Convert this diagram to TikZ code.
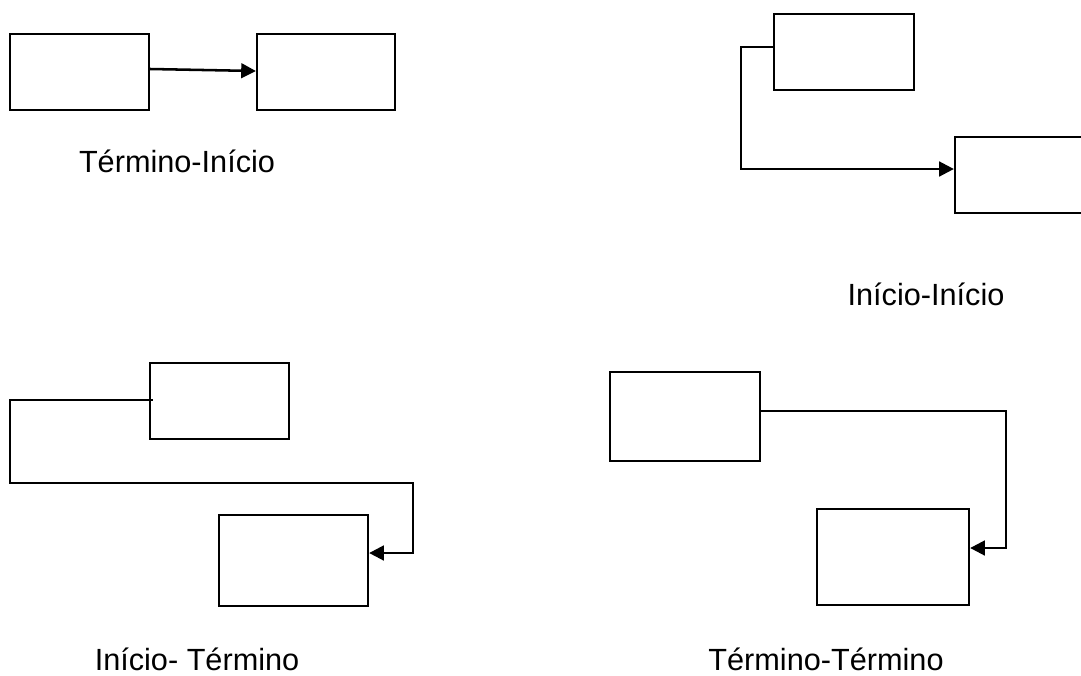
\documentclass[tikz,border=0pt]{standalone}
\usepackage{fontspec}
\setmainfont{Liberation Sans}
\usetikzlibrary{arrows.meta,calc}
\begin{document}
\begin{tikzpicture}[x=0.75pt,y=-0.75pt,
  box/.style={draw=black,line width=1.7pt,rectangle,inner sep=0pt,fill=white},
  conn/.style={draw=black,line width=1.9pt,line join=miter,-{Triangle[length=11pt,width=11pt]}},
  lbl/.style={anchor=base,font=\fontsize{23}{28}\selectfont,inner sep=0pt,text depth=0pt}]
\useasboundingbox (0,0) rectangle (1081,675);
\fill[white] (0,0) rectangle (1081,675);
\clip (0,0) rectangle (1081,675);
% Término-Início
\node[box,minimum width=104.25pt,minimum height=57pt] (A1) at (79.5,72) {};
\node[box,minimum width=103.5pt,minimum height=57pt] (A2) at (326,72) {};
\draw[conn] ($(A1.east)+(0,-3)$) -- ($(A2.west)+(0,-1)$);
\node[lbl] (L1) at (177,172) {Término-Início};
% Início-Início
\node[box,minimum width=105pt,minimum height=57pt] (B1) at (844,52) {};
\node[box,minimum width=104.25pt,minimum height=57pt] (B2) at (1024.5,175) {};
\coordinate (ii1) at (741,169);
\draw[conn] ($(B1.west)+(0,-5)$) -| (ii1) -- ($(B2.west)+(0,-6)$);
\node[lbl] (L2) at (926,305) {Início-Início};
% Início- Término
\node[box,minimum width=104.25pt,minimum height=57pt] (C1) at (219.5,401) {};
\node[box,minimum width=111.75pt,minimum height=68.25pt] (C2) at (293.5,560.5) {};
\coordinate (it1) at (10,483);
\coordinate (it2) at (413,553);
\draw[conn] ($(C1.west)+(4,-1)$) -| (it1) -| (it2) -- ($(C2.east)+(0,-7.5)$);
\node[lbl] (L3) at (197,670) {Início- Término};
% Término-Término
\node[box,minimum width=112.5pt,minimum height=66.75pt] (D1) at (685,416.5) {};
\node[box,minimum width=114pt,minimum height=72pt] (D2) at (893,557) {};
\coordinate (tt1) at (1006,548);
\draw[conn] ($(D1.east)+(0,-5.5)$) -| (tt1) -- ($(D2.east)+(0,-9)$);
\node[lbl] (L4) at (826,670) {Término-Término};
\end{tikzpicture}
\end{document}
